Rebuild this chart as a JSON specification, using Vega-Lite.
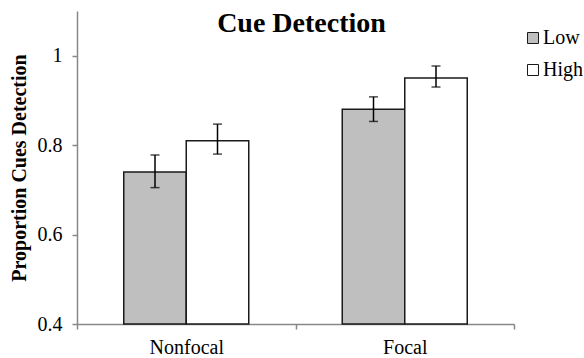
{
  "$schema": "https://vega.github.io/schema/vega-lite/v6.json",
  "width": 437,
  "height": 313,
  "autosize": {"type": "none"},
  "padding": {"left": 77, "top": 11, "right": 70, "bottom": 34},
  "background": "white",
  "config": {
    "view": {"stroke": null},
    "font": "Liberation Serif",
    "axis": {"labelFont": "Liberation Serif", "titleFont": "Liberation Serif", "labelColor": "#000", "titleColor": "#000"},
    "legend": {"labelFont": "Liberation Serif"},
    "title": {"font": "Liberation Serif"}
  },
  "title": {
    "text": "Cue Detection",
    "font": "Liberation Serif",
    "fontSize": 28,
    "fontWeight": "bold",
    "color": "#000",
    "anchor": "middle",
    "frame": "group",
    "baseline": "top",
    "offset": -27,
    "dx": 6
  },
  "data": {
    "values": [
      {"focus": "Nonfocal", "load": "Low", "p": 0.74, "lo": 0.705, "hi": 0.778},
      {"focus": "Nonfocal", "load": "High", "p": 0.81, "lo": 0.78, "hi": 0.847},
      {"focus": "Focal", "load": "Low", "p": 0.88, "lo": 0.853, "hi": 0.908},
      {"focus": "Focal", "load": "High", "p": 0.95, "lo": 0.93, "hi": 0.977}
    ]
  },
  "encoding": {
    "x": {
      "field": "focus",
      "type": "nominal",
      "sort": ["Nonfocal", "Focal"],
      "scale": {"paddingInner": 0, "paddingOuter": 0},
      "axis": {
        "title": null,
        "labelAngle": 0,
        "labelFont": "Liberation Serif",
        "labelFontSize": 20,
        "labelPadding": 8,
        "tickBand": "extent",
        "tickSize": 5,
        "tickColor": "#888",
        "domainColor": "#888",
        "tickWidth": 1.5,
        "domainWidth": 1.5
      }
    },
    "xOffset": {
      "field": "load",
      "type": "nominal",
      "sort": ["Low", "High"],
      "scale": {"paddingInner": 0, "paddingOuter": 0.748}
    }
  },
  "layer": [
    {
      "mark": {"type": "bar", "stroke": "#1a1a1a", "strokeWidth": 1.5},
      "encoding": {
        "y": {
          "field": "p",
          "type": "quantitative",
          "scale": {"domain": [0.4, 1.1], "nice": false, "zero": false},
          "axis": {
            "title": "Proportion Cues Detection",
            "titleFont": "Liberation Serif",
            "titleFontSize": 20,
            "titleFontWeight": "bold",
            "titlePadding": 8,
            "values": [0.4, 0.6, 0.8, 1],
            "format": "~g",
            "grid": false,
            "labelFont": "Liberation Serif",
            "labelFontSize": 20,
            "labelPadding": 10,
            "tickSize": 5,
            "tickColor": "#888",
            "domainColor": "#888",
            "tickWidth": 1.5,
            "domainWidth": 1.5
          }
        },
        "y2": {"datum": 0.4},
        "fill": {
          "field": "load",
          "type": "nominal",
          "sort": ["Low", "High"],
          "scale": {"domain": ["Low", "High"], "range": ["#bfbfbf", "#ffffff"]},
          "legend": {
            "title": null,
            "orient": "none",
            "legendX": 446,
            "legendY": 17,
            "padding": 0,
            "symbolType": "square",
            "symbolSize": 121,
            "symbolStrokeColor": "#1a1a1a",
            "symbolStrokeWidth": 1,
            "labelFont": "Liberation Serif",
            "labelFontSize": 20,
            "labelColor": "#000",
            "labelOffset": 0,
            "rowPadding": 12
          }
        }
      }
    },
    {
      "mark": {"type": "rule", "color": "#000", "strokeWidth": 1.5},
      "encoding": {
        "y": {"field": "lo", "type": "quantitative"},
        "y2": {"field": "hi"}
      }
    },
    {
      "mark": {"type": "tick", "color": "#000", "thickness": 1.5, "size": 9},
      "encoding": {"y": {"field": "lo", "type": "quantitative"}}
    },
    {
      "mark": {"type": "tick", "color": "#000", "thickness": 1.5, "size": 9},
      "encoding": {"y": {"field": "hi", "type": "quantitative"}}
    }
  ]
}
